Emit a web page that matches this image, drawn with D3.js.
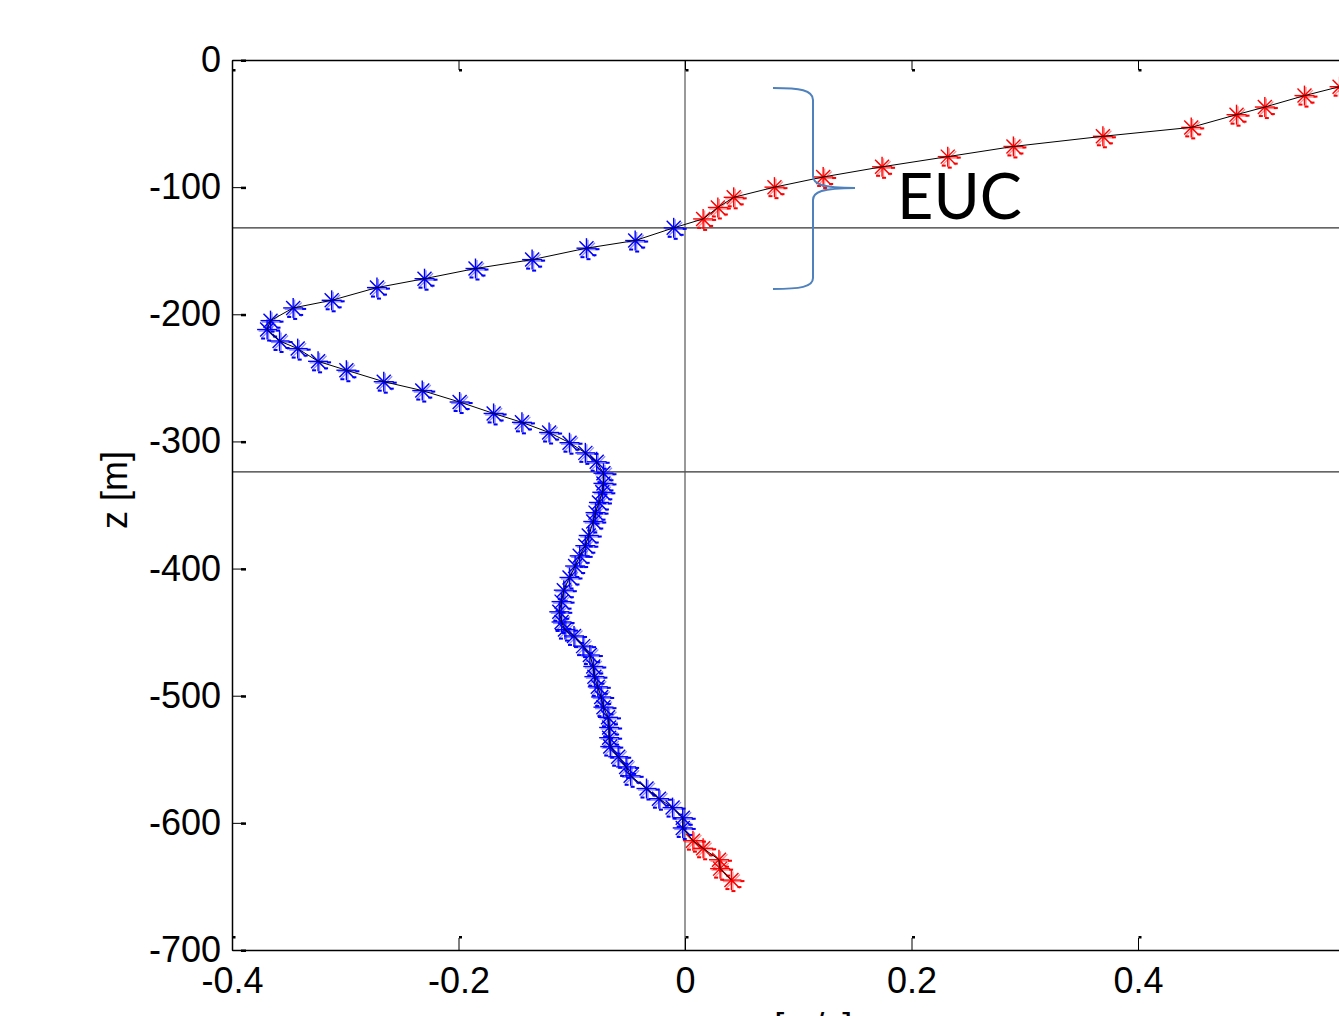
<!DOCTYPE html>
<html>
<head>
<meta charset="utf-8">
<script src="https://cdn.jsdelivr.net/npm/d3@7"></script>
<style>
  body { margin: 0; background: #fff; }
  svg { display: block; }
</style>
</head>
<body>
<div id="chart"></div>
<script>
// velocity profile, u [m/s] against depth z [m]
var depth = [-21, -28, -37, -43, -53, -60, -68, -76, -84, -92, -100, -108, -116, -125,
  -132, -142, -148, -157, -164, -172, -179, -189, -195, -205, -212, -221, -227, -237, -244,
  -253, -260, -269, -278, -285, -293, -301, -309, -316, -325, -333, -340, -348, -356, -363,
  -374, -382, -390, -398, -407, -417, -426, -434, -442, -448, -453, -461, -468, -477, -485,
  -493, -501, -509, -517, -525, -533, -540, -548, -556, -563, -573, -581, -588, -596, -604,
  -614, -620, -629, -636, -645];
var speed = [0.578, 0.547, 0.512, 0.487, 0.447, 0.369, 0.290, 0.232, 0.174, 0.122, 0.079, 0.043, 0.029, 0.016,
  -0.010, -0.044, -0.087, -0.135, -0.185, -0.230, -0.272, -0.312, -0.346, -0.366, -0.369, -0.358, -0.342, -0.324, -0.299,
  -0.266, -0.232, -0.199, -0.169, -0.144, -0.120, -0.102, -0.088, -0.078, -0.072, -0.072, -0.073, -0.076, -0.079, -0.081,
  -0.085, -0.088, -0.093, -0.097, -0.102, -0.107, -0.109, -0.111, -0.109, -0.106, -0.098, -0.090, -0.084, -0.081, -0.080,
  -0.077, -0.074, -0.072, -0.068, -0.067, -0.067, -0.066, -0.059, -0.052, -0.048, -0.034, -0.023, -0.011, -0.002, -0.002,
  0.007, 0.016, 0.030, 0.031, 0.041];
var refDepths = [-132, -324];
var xTicks = [-0.4, -0.2, 0, 0.2, 0.4];
var zTicks = [0, -100, -200, -300, -400, -500, -600, -700];
var xDomain = [-0.4, 0.6];
var zDomain = [-700, 0];

var W = 1339, H = 1016;
var mLeft = 232, mTop = 60, mBottom = 950, mRight = 1364.5;

var svg = d3.select('#chart').append('svg')
  .attr('width', W).attr('height', H)
  .style('font-family', 'Liberation Sans, Arial, sans-serif');
svg.append('rect').attr('width', W).attr('height', H).attr('fill', '#fff');

var x = d3.scaleLinear().domain(xDomain).range([mLeft, mRight]);
var y = d3.scaleLinear().domain(zDomain).range([mBottom, mTop]);

var pts = depth.map(function (z, i) { return { z: z, u: speed[i] }; });

// reference lines
svg.selectAll('.href').data(refDepths).enter().append('line')
  .attr('x1', mLeft).attr('x2', mRight)
  .attr('y1', function (d) { return y(d); }).attr('y2', function (d) { return y(d); })
  .attr('stroke', '#333').attr('stroke-width', 1.2);
svg.append('line')
  .attr('x1', x(0)).attr('x2', x(0)).attr('y1', mTop).attr('y2', mBottom)
  .attr('stroke', '#555').attr('stroke-width', 1.2);

// markers
function colorOf(d) { return d.u > 0 ? '#ff0000' : '#0000ff'; }
var arms = [[-10, 0, 10, 0], [0, -10, 0, 10], [-7, -7, 7, 7], [-7, 7, 7, -7]];
var dashes = [[9, 0], [6, 6], [-6, 8], [0, 10]];
var mk = svg.append('g').selectAll('g').data(pts).enter().append('g')
  .attr('transform', function (d) { return 'translate(' + x(d.u) + ',' + y(d.z) + ')'; });
mk.each(function (d) {
  var g = d3.select(this), c = colorOf(d);
  g.selectAll('line.ghost').data(arms).enter().append('line').attr('class', 'ghost')
    .attr('x1', function (a) { return a[0] + 1.5; }).attr('y1', function (a) { return a[1] + 1.5; })
    .attr('x2', function (a) { return a[2] + 1.5; }).attr('y2', function (a) { return a[3] + 1.5; })
    .attr('stroke', c).attr('stroke-opacity', 0.45).attr('stroke-width', 1.3);
  g.selectAll('line.arm').data(arms).enter().append('line').attr('class', 'arm')
    .attr('x1', function (a) { return a[0]; }).attr('y1', function (a) { return a[1]; })
    .attr('x2', function (a) { return a[2]; }).attr('y2', function (a) { return a[3]; })
    .attr('stroke', c).attr('stroke-width', 1.4);
  g.selectAll('rect').data(dashes).enter().append('rect')
    .attr('x', function (p) { return p[0]; }).attr('y', function (p) { return p[1]; })
    .attr('width', 4).attr('height', 2).attr('fill', c);
});

// profile line
svg.append('path').datum(pts)
  .attr('d', d3.line().x(function (d) { return x(d.u); }).y(function (d) { return y(d.z); }))
  .attr('fill', 'none').attr('stroke', '#000').attr('stroke-width', 1);

// axes
var fmt = function (d) { return String(d); };
var yAxis = svg.append('g').attr('transform', 'translate(' + mLeft + ',0)')
  .call(d3.axisLeft(y).tickValues(zTicks).tickFormat(fmt).tickSizeInner(-12).tickSizeOuter(0).tickPadding(11));
var xAxis = svg.append('g').attr('transform', 'translate(0,' + mBottom + ')')
  .call(d3.axisBottom(x).tickValues(xTicks).tickFormat(fmt).tickSizeInner(-12).tickSizeOuter(0).tickPadding(17));
var xTop = svg.append('g').attr('transform', 'translate(0,' + mTop + ')')
  .call(d3.axisTop(x).tickValues(xTicks).tickFormat('').tickSizeInner(-10).tickSizeOuter(0));
[yAxis, xAxis, xTop].forEach(function (a) {
  a.select('.domain').attr('stroke', '#000').attr('stroke-width', 1.5);
  a.selectAll('.tick line').attr('stroke', '#000').attr('stroke-width', 1);
  a.selectAll('text').attr('font-size', 36).attr('fill', '#000');
});
// small feet on the tick ends
yAxis.selectAll('.tick').append('rect').attr('x', 9).attr('y', -1).attr('width', 5).attr('height', 2.5).attr('fill', '#000');
xAxis.selectAll('.tick').append('rect').attr('x', 0).attr('y', -14).attr('width', 3).attr('height', 2.5).attr('fill', '#000');
xTop.selectAll('.tick').append('rect').attr('x', 0).attr('y', 9).attr('width', 3).attr('height', 2.5).attr('fill', '#000');

// axis titles
svg.append('text').attr('transform', 'translate(127,490) rotate(-90)')
  .attr('text-anchor', 'middle').attr('font-size', 36).text('z [m]');
svg.append('text').attr('x', (mLeft + mRight) / 2).attr('y', 1039)
  .attr('text-anchor', 'middle').attr('font-size', 36).text('u [m/s]');

// EUC brace and label
svg.append('path')
  .attr('d', 'M773,88 C800,88 813,90 813,100 L813,176 C813,184 822,188 855,188 C822,188 813,192 813,200 L813,278 C813,287 800,289 773,289')
  .attr('fill', 'none').attr('stroke', '#4f81bd').attr('stroke-width', 2);
svg.append('text').attr('x', 897).attr('y', 219)
  .attr('font-family', 'Lato, Carlito, sans-serif').attr('font-size', 63).attr('fill', '#000').text('EUC');
</script>
</body>
</html>
